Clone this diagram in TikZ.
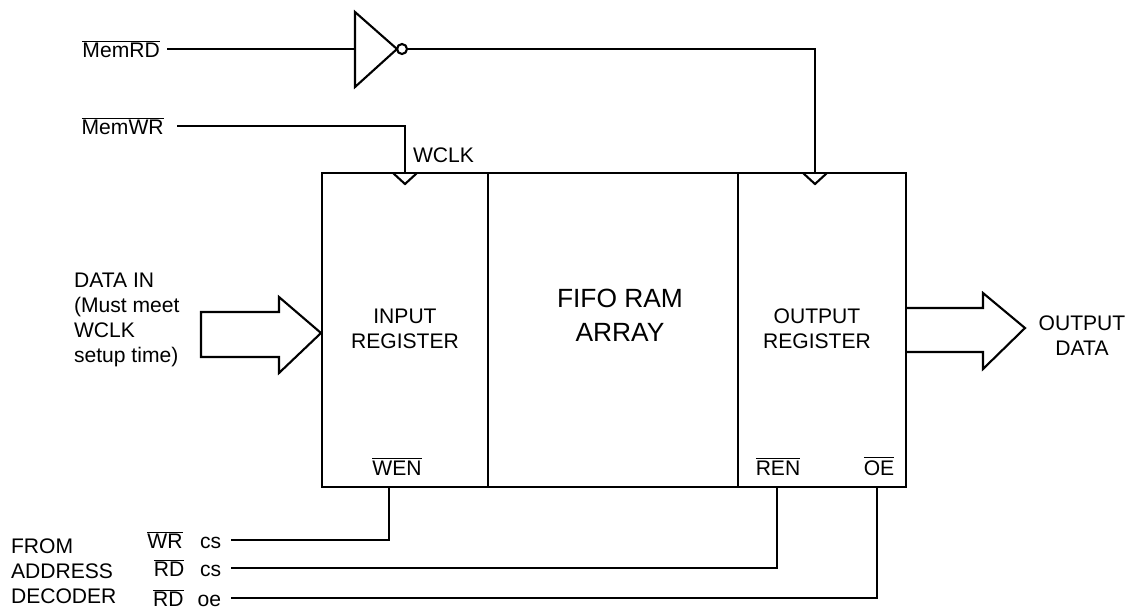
\documentclass[tikz,border=0pt]{standalone}
\usepackage{fontspec}
\setmainfont{Liberation Sans}
\usetikzlibrary{positioning}
\newcommand{\ovl}[1]{$\overline{\mbox{#1}}$}

\begin{document}
\begin{tikzpicture}[x=0.02cm,y=-0.02cm,line width=1.2pt,
  font=\fontsize{12}{14.3}\selectfont,
  reg/.style={draw,minimum height=6.28cm,inner sep=0pt},
  sig/.style={inner xsep=3.5pt,inner ysep=0pt},
  txt/.style={inner sep=0pt,align=center}]
\useasboundingbox (0,0) rectangle (1133,610);
% register blocks
\node[reg,minimum width=3.32cm] (inreg) at (405,330) {};
\node[reg,minimum width=5cm] (fifo) at (613,330) {};
\node[reg,minimum width=3.36cm] (outreg) at (822,330) {};
\node[txt] (intext) at (405,329) {INPUT\\REGISTER};
\node[txt,font=\fontsize{15}{19.3}\selectfont] (fifotext) at (620,315) {FIFO RAM\\ARRAY};
\node[txt] (outtext) at (817,329) {OUTPUT\\REGISTER};
% clocks
\coordinate (wclk) at (405,173);
\coordinate (rclk) at (815,173);
\draw (wclk) ++(-12,0) -- ++(12,11) -- ++(12,-11);
\draw (rclk) ++(-12,0) -- ++(12,11) -- ++(12,-11);
\node[txt,anchor=west] (wclklbl) at (412,155) {WCLK};
% read strobe through inverter
\node[sig,anchor=east] (memrd) at (167,49) {\ovl{MemRD}};
\coordinate (inv in) at (355,49);
\coordinate (inv out) at (407,49);
\draw (355,12) -- (397,49) -- (355,87) -- cycle;
\draw (402,49) circle[radius=0.1cm];
\draw (memrd.east) -- (inv in);
\draw (inv out) -| (rclk);
% write strobe
\node[sig,anchor=east,inner xsep=7pt] (memwr) at (177,126) {\ovl{MemWR}};
\draw (memwr.east) -| (wclk);
% data arrows
\node[txt,anchor=west,align=left] (datain) at (73,320) {DATA IN\\(Must meet\\WCLK\\setup time)};
\draw (201,312) -- (279,312) -- (279,297) -- (321,333) -- (279,373) -- (279,357) -- (201,357) -- cycle;
\draw (906,308) -- (983,308) -- (983,293) -- (1025,328) -- (983,369) -- (983,352) -- (906,352);
\node[txt] (dataout) at (1082,336) {OUTPUT\\DATA};
% enables
\node[txt] (wen) at (397,466) {\ovl{WEN}};
\node[txt] (ren) at (778,466) {\ovl{REN}};
\node[txt] (oe) at (879,466) {\ovl{OE}};
\coordinate (wen pin) at (389,487);
\coordinate (ren pin) at (777,487);
\coordinate (oe pin) at (877,487);
\node[sig,anchor=east,inner xsep=5pt] (wrcs) at (231,540) {\ovl{WR}\hspace{10pt}cs};
\node[sig,anchor=east,inner xsep=5pt] (rdcs) at (231,568) {\ovl{RD}\hspace{9pt}cs};
\node[sig,anchor=east,inner xsep=5pt] (rdoe) at (231,598) {\ovl{RD}\hspace{8pt}oe};
\draw (wrcs.east) -| (wen pin);
\draw (rdcs.east) -| (ren pin);
\draw (rdoe.east) -| (oe pin);
\node[txt,anchor=west,align=left] (decoder) at (10,571) {FROM\\ADDRESS\\DECODER};
\end{tikzpicture}
\end{document}
